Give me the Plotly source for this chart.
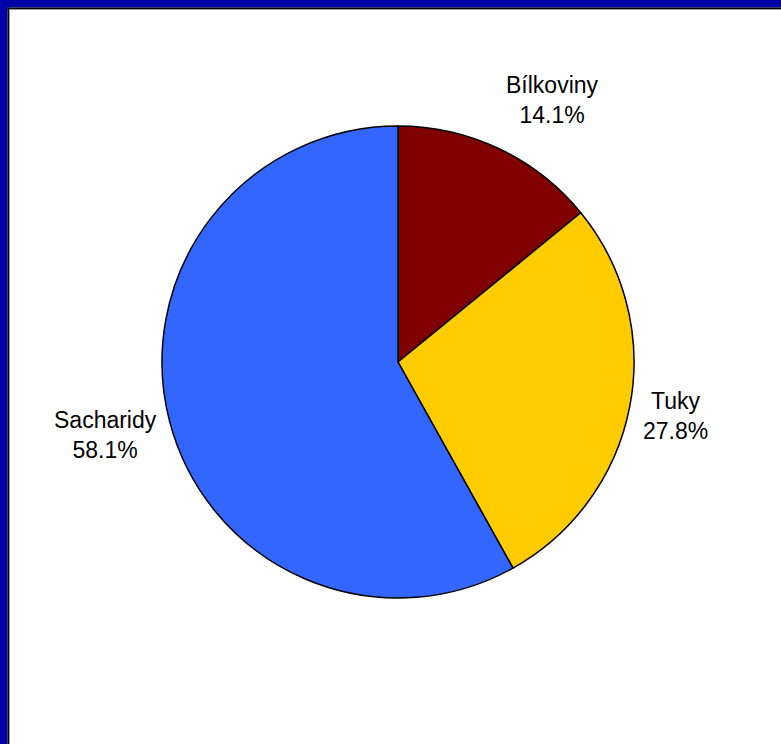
import math
import plotly.graph_objects as go

# Podíl živin na energetickém příjmu
labels = ["Bílkoviny", "Tuky", "Sacharidy"]
values = [14.1, 27.8, 58.1]
colors = ["#800000", "#FFCC00", "#3366FF"]

W, H = 781, 744
cx, cy, R = 398, 362, 236
FONT = dict(family="Liberation Sans, Arial, sans-serif", size=23, color="black")

fig = go.Figure(go.Pie(
    labels=labels,
    values=values,
    sort=False,
    direction="clockwise",
    rotation=0,
    marker=dict(colors=colors, line=dict(color="black", width=1.5)),
    textinfo="none",
    hoverinfo="skip",
    showlegend=False,
    domain=dict(x=[(cx - R) / W, (cx + R) / W], y=[1 - (cy + R) / H, 1 - (cy - R) / H]),
))

# outside category labels, placed along each slice's mid-angle
total = sum(values)
annotations = []
acc = 0.0
for lab, val in zip(labels, values):
    mid = (acc + val / 2) / total * 2 * math.pi
    acc += val
    s, c = math.sin(mid), math.cos(mid)
    px = cx + s * (R + 11)
    py = cy - c * (R + 54)
    annotations.append(dict(
        x=px / W, y=1 - py / H, xref="paper", yref="paper",
        text=f"{lab}<br>{val:.1f}%", showarrow=False, align="center",
        xanchor="left" if s > 0 else "right", yanchor="middle", font=FONT,
    ))

# window frame: blue band top/left with dark inner edge
shapes = [
    dict(type="rect", xref="paper", yref="paper", x0=0, x1=1, y0=1 - 7.5 / H, y1=1,
         fillcolor="#0000A8", line=dict(width=0), layer="below"),
    dict(type="rect", xref="paper", yref="paper", x0=0, x1=7.5 / W, y0=0, y1=1,
         fillcolor="#0000A8", line=dict(width=0), layer="below"),
    dict(type="rect", xref="paper", yref="paper", x0=7.5 / W, x1=1, y0=1 - 9 / H, y1=1 - 7.5 / H,
         fillcolor="#000000", line=dict(width=0), layer="below"),
    dict(type="rect", xref="paper", yref="paper", x0=7.5 / W, x1=9 / W, y0=0, y1=1 - 7.5 / H,
         fillcolor="#000000", line=dict(width=0), layer="below"),
    dict(type="rect", xref="paper", yref="paper", x0=9 / W, x1=1, y0=1 - 10 / H, y1=1 - 9 / H,
         fillcolor="#9A9A9A", line=dict(width=0), layer="below"),
    dict(type="rect", xref="paper", yref="paper", x0=9 / W, x1=10 / W, y0=0, y1=1 - 9 / H,
         fillcolor="#9A9A9A", line=dict(width=0), layer="below"),
]

fig.update_layout(
    width=W, height=H,
    margin=dict(l=0, r=0, t=0, b=0),
    paper_bgcolor="white",
    shapes=shapes,
    annotations=annotations,
)

fig.write_html("out.html")
